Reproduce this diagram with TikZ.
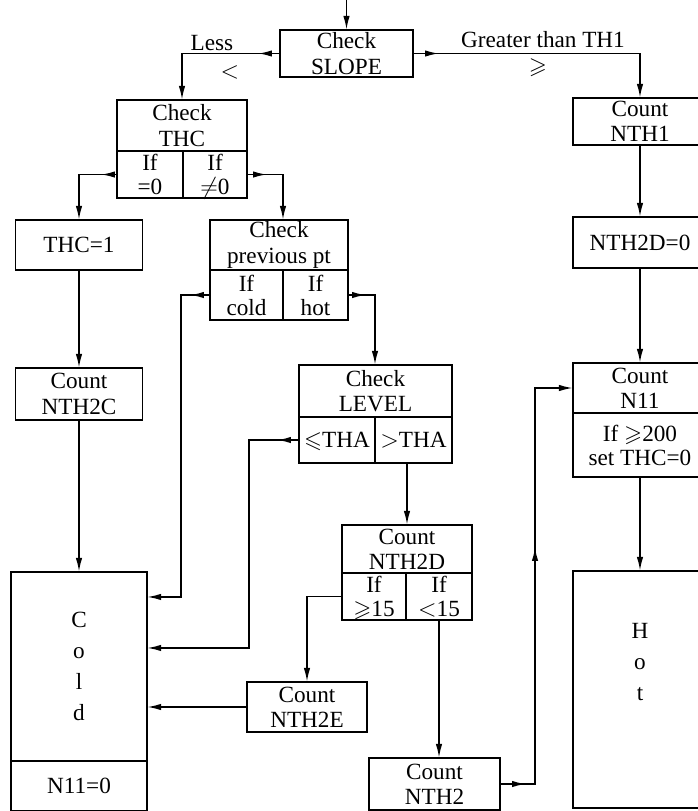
\documentclass[tikz,border=0pt]{standalone}
\usepackage{amssymb}
\usepackage{fontspec}
\setmainfont{Liberation Serif}
\usetikzlibrary{positioning, arrows.meta, calc, decorations.markings}

\begin{document}
\begin{tikzpicture}[
    x=0.025cm, y=-0.025cm,
    >={Latex[length=3.5mm, width=1.6mm]},
    box/.style={draw, line width=1.2pt, align=center, inner sep=1pt, outer sep=0pt,
                font=\fontsize{16.5}{18}\selectfont},
    cell/.style={box, inner sep=0pt, minimum height=#1, font=\fontsize{16.5}{17}\selectfont},
    rbox/.style={box, minimum width=3.35cm},
    flow/.style={->, line width=1.2pt},
    tipat/.style={postaction={decorate, decoration={markings, mark=at position #1 with {\arrow{>}}}}},
    lbl/.style={font=\fontsize{16.5}{18}\selectfont, inner sep=0pt},
]
\useasboundingbox (0,0) rectangle (698,811);
\clip (0,0) rectangle (698,811);

% Top
\coordinate (entry) at (346.5,0);
\node[box, minimum width=3.325cm, minimum height=1.175cm] (slope) at (346.5,53.5) {Check\\SLOPE};
\node[lbl] (less) at (212,43) {Less};
\node[lbl] (lesssym) at (230,72) {$<$};
\node[lbl] (greater) at (543,40) {Greater than TH1};
\node[lbl] (geqsym) at (538,68) {$\geqslant$};

% Left branch
\node[box, minimum width=3.25cm, minimum height=1.275cm] (thc) at (182,125.5) {Check\\THC};
\node[cell=1.175cm, minimum width=1.65cm, below right=0pt and 0pt of thc.south west] (thczero) {If\\=0};
\node[cell=1.175cm, minimum width=1.6cm, below left=0pt and 0pt of thc.south east] (thcnz) {If\\$\smash{\neq}$0};

\node[box, minimum width=3.175cm, minimum height=1.25cm] (thcset) at (79,245) {THC=1};
\node[box, minimum width=3.175cm, minimum height=1.3cm] (nth2c) at (79,394) {Count\\NTH2C};

\node[box, minimum width=3.45cm, minimum height=1.25cm] (prev) at (279,245) {Check\\previous pt};
\node[cell=1.25cm, minimum width=1.825cm, below right=0pt and 0pt of prev.south west] (prevcold) {If\\cold};
\node[cell=1.25cm, minimum width=1.625cm, below left=0pt and 0pt of prev.south east] (prevhot) {If\\hot};

\node[box, minimum width=3.825cm, minimum height=1.3cm] (level) at (375.5,391) {Check\\LEVEL};
\node[cell=1.15cm, minimum width=1.9cm, below right=0pt and 0pt of level.south west] (levlow) {$\smash{\leqslant}$THA};
\node[cell=1.15cm, minimum width=1.925cm, below left=0pt and 0pt of level.south east] (levhigh) {$>$THA};

\node[box, minimum width=3.25cm, minimum height=1.2cm] (nth2d) at (407,549) {Count\\NTH2D};
\node[cell=1.175cm, minimum width=1.6cm, below right=0pt and 0pt of nth2d.south west] (dhigh) {If\\$\smash{\geqslant}$15};
\node[cell=1.175cm, minimum width=1.65cm, below left=0pt and 0pt of nth2d.south east] (dlow) {If\\$\smash{<}$15};

\node[box, minimum width=3cm, minimum height=1.25cm] (nth2e) at (307,707) {Count\\NTH2E};
\node[box, minimum width=3.275cm, minimum height=1.3cm] (nth2) at (434.5,784) {Count\\NTH2};

% Cold
\node[box, minimum width=3.4cm, minimum height=4.725cm, font=\fontsize{16.5}{22}\selectfont] (cold) at (79,666.5) {C\\o\\l\\d};
\node[cell=1.25cm, minimum width=3.4cm, below=0pt of cold] (coldreset) {N11=0};

% Right branch
\node[rbox, minimum height=1.175cm] (nth1) at (640,121.5) {Count\\NTH1};
\node[rbox, minimum height=1.275cm] (nth2dz) at (640,242.5) {NTH2D=0};
\node[rbox, minimum height=1.25cm] (n11) at (640,388) {Count\\N11};
\node[rbox, cell=1.6cm, below=0pt of n11] (n11set) {If $\geqslant$200\\set THC=0};
\node[rbox, minimum height=5.925cm, font=\fontsize{16.5}{22}\selectfont] (hot) at (640,689.5) {H\\o\\t\\[0.6cm]\phantom{t}};

% Connectors
\draw[flow] (entry) -- (slope);
\draw[flow, tipat=0.55cm] (slope.west) -| (thc.north);
\draw[flow, tipat=0.65cm] (slope.east) -| (nth1.north);
\draw[flow, tipat=0.4cm] (thczero.west) -| (thcset.north);
\draw[flow, tipat=0.5cm] (thcnz.east) -| (prevcold.east |- prev.north);
\draw[flow] (thcset) -- (nth2c);
\draw[flow] (nth2c) -- (cold);
\draw[flow, tipat=0.5cm] (prevcold.west) -- ++(-29,0) |- ($(cold.north east)+(0,25)$);
\draw[flow, tipat=0.45cm] (prevhot.east) -| (levlow.east |- level.north);
\draw[flow, tipat=0.55cm] (levlow.west) -- ++(-50,0) |- ($(cold.north east)+(0,76)$);
\draw[flow] (nth2d.north |- levhigh.south) -- (nth2d.north);
\draw[flow] (dhigh.west) -| (nth2e.north);
\draw[flow] (dlow.south) -- (dlow.south |- nth2.north);
\draw[flow] (nth2e.west) -- (nth2e.west -| cold.east);
\draw[flow, tipat=0.65cm, tipat=6.8cm] (nth2.east) -- ++(35,0) |- (n11.west);
\draw[flow] (nth1) -- (nth2dz);
\draw[flow] (nth2dz) -- (n11);
\draw[flow] (n11set) -- (hot);

\end{tikzpicture}
\end{document}
